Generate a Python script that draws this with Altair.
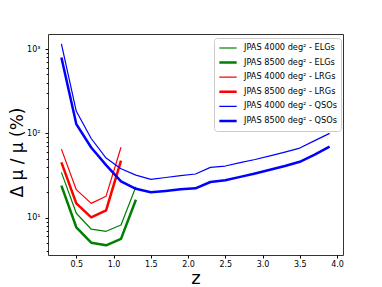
import altair as alt
import pandas as pd

# ---- data ----
z_elg = [0.3, 0.5, 0.7, 0.9, 1.1, 1.3]
elg_4000 = [34.5, 11.3, 7.3, 6.9, 8.2, 23.3]
elg_8500 = [24.0, 7.7, 5.05, 4.7, 5.6, 16.3]

z_lrg = [0.3, 0.5, 0.7, 0.9, 1.1]
lrg_4000 = [65.0, 21.5, 14.8, 18.0, 68.5]
lrg_8500 = [45.4, 14.8, 10.1, 12.2, 47.4]

z_qso = [0.3, 0.5, 0.7, 0.9, 1.1, 1.3, 1.5, 1.7, 1.9, 2.1,
         2.3, 2.5, 2.7, 2.9, 3.1, 3.3, 3.5, 3.7, 3.9]
qso_4000 = [1150, 183, 87, 51, 38, 32, 28.5, 30, 31.5, 33,
            39.5, 41, 45, 49, 54, 60, 67, 82, 100]
qso_8500 = [795, 129, 68, 42, 27, 22, 20, 20.8, 21.7, 22.3,
            26.5, 27.8, 30.5, 33.5, 37, 41, 46, 56, 69.5]

names = ["JPAS 4000 deg² - ELGs", "JPAS 8500 deg² - ELGs",
         "JPAS 4000 deg² - LRGs", "JPAS 8500 deg² - LRGs",
         "JPAS 4000 deg² - QSOs", "JPAS 8500 deg² - QSOs"]
colors = ["#008000", "#008000", "#ff0000", "#ff0000", "#0000ff", "#0000ff"]
widths = [1.2, 2.5, 1.2, 2.5, 1.2, 2.5]

x_ticks = [0.5, 1.0, 1.5, 2.0, 2.5, 3.0, 3.5, 4.0]
y_ticks = [4, 5, 6, 7, 8, 9, 10, 20, 30, 40, 50, 60, 70, 80, 90, 100,
           200, 300, 400, 500, 600, 700, 800, 900, 1000]

series = [(names[0], z_elg, elg_4000), (names[1], z_elg, elg_8500),
          (names[2], z_lrg, lrg_4000), (names[3], z_lrg, lrg_8500),
          (names[4], z_qso, qso_4000), (names[5], z_qso, qso_8500)]
rows = []
for name, zs, vs in series:
    for z, v in zip(zs, vs):
        rows.append({"z": z, "v": v, "series": name})
df = pd.DataFrame(rows)

FONT = "DejaVu Sans"

legend = alt.Legend(
    title=None, orient="none", legendX=166, legendY=4,
    symbolType="stroke", symbolSize=300, clipHeight=12, rowPadding=2.6,
    labelFontSize=8.2, labelFont=FONT, labelColor="black", labelOffset=6,
    padding=4, strokeColor="#cccccc", fillColor="white", cornerRadius=3,
)

chart = alt.Chart(df).mark_line(clip=True, strokeJoin="round").encode(
    x=alt.X("z:Q",
            scale=alt.Scale(domain=[0.12, 4.08], nice=False, zero=False),
            axis=alt.Axis(values=x_ticks, format=".1f", title="z",
                          titleFontSize=18, titleFont=FONT, titleColor="black",
                          titleFontWeight="normal", titleY=28,
                          titleBaseline="alphabetic",
                          labelFontSize=8, labelFont=FONT, labelColor="black",
                          tickSize=3, tickColor="black", labelPadding=2,
                          grid=False, domain=False)),
    y=alt.Y("v:Q",
            scale=alt.Scale(type="log", domain=[3.61, 1510], nice=False),
            axis=alt.Axis(values=y_ticks,
                          labelExpr="datum.value == 10 ? '10¹' : datum.value == 100 ? '10²' : datum.value == 1000 ? '10³' : ''",
                          tickSize={"condition": {"test": "datum.value == 10 || datum.value == 100 || datum.value == 1000", "value": 3}, "value": 1.8},
                          title="Δ μ / μ (%)", titleFontSize=17, titleFont=FONT,
                          titleColor="black", titleFontWeight="normal",
                          titleX=-22, titleY=118, titleBaseline="bottom",
                          labelFontSize=8, labelFont=FONT, labelColor="black",
                          tickColor="black", labelPadding=5,
                          grid=False, domain=False)),
    color=alt.Color("series:N", scale=alt.Scale(domain=names, range=colors), legend=legend),
    strokeWidth=alt.StrokeWidth("series:N", scale=alt.Scale(type="ordinal", domain=names, range=widths), legend=legend),
).properties(
    width=295, height=221,
    autosize=alt.AutoSizeParams(type="none"),
    padding={"left": 40, "top": 26, "right": 30, "bottom": 32},
).configure_view(stroke="#333333", strokeWidth=1)

chart.save("out.html", embed_options={"renderer": "svg", "actions": False})
